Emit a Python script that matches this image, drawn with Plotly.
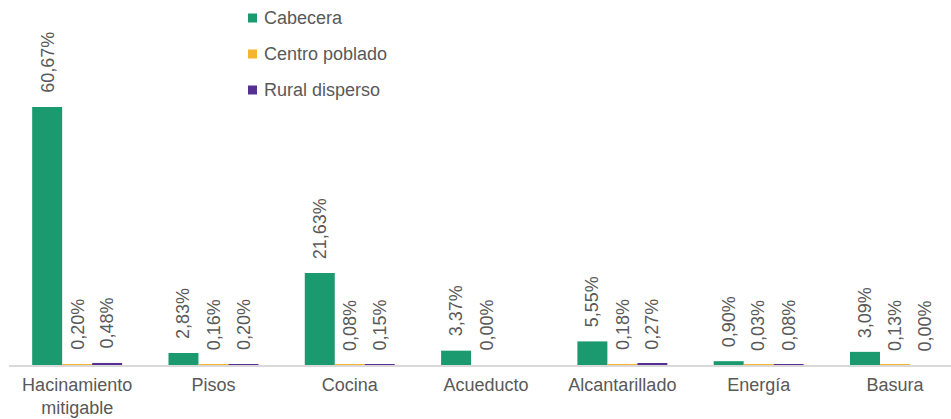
import plotly.graph_objects as go

categories = ["Hacinamiento<br>mitigable", "Pisos", "Cocina", "Acueducto",
              "Alcantarillado", "Energía", "Basura"]
series_names = ["Cabecera", "Centro poblado", "Rural disperso"]
cabecera = [60.67, 2.83, 21.63, 3.37, 5.55, 0.90, 3.09]
centro_poblado = [0.20, 0.16, 0.08, 0.00, 0.18, 0.03, 0.13]
rural_disperso = [0.48, 0.20, 0.15, None, 0.27, 0.08, 0.00]
colors = ["#1b9a70", "#f6b530", "#553090"]

series = [cabecera, centro_poblado, rural_disperso]
text_color = "#595959"
FONT = "Liberation Sans, Arial, sans-serif"
FS = 18

W, H = 951, 419
ML, MR, MT, MB = 9, 0, 0, 54
PW, PH = W - ML - MR, H - MT - MB

fig = go.Figure()
xs = list(range(len(categories)))
for k, (name, vals, col) in enumerate(zip(series_names, series, colors)):
    fig.add_trace(go.Bar(
        x=xs, y=vals, name=name, marker=dict(color=col, line=dict(width=0)),
        hoverinfo="skip", showlegend=False,
    ))

bargap = 0.34
bw = (1 - bargap) / 3
annotations = []
for k, vals in enumerate(series):
    for i, v in enumerate(vals):
        if v is None:
            continue
        annotations.append(dict(
            x=i + (k - 1) * bw, y=v, xref="x", yref="y",
            text=f"{v:.2f}".replace(".", ",") + "%",
            textangle=-90, showarrow=False, xanchor="center", yanchor="bottom",
            yshift=12, font=dict(family=FONT, size=FS, color=text_color),
        ))

# manual legend (pixel positions converted to paper coords)
shapes = []
leg_sq_x0, leg_sq_size, leg_text_x = 248, 9, 262
leg_rows = [18, 54, 90]
for name, col, yc in zip(series_names, colors, leg_rows):
    shapes.append(dict(
        type="rect", xref="paper", yref="paper",
        x0=(leg_sq_x0 - ML) / PW, x1=(leg_sq_x0 + leg_sq_size - ML) / PW,
        y0=(H - MB - (yc + leg_sq_size / 2)) / PH, y1=(H - MB - (yc - leg_sq_size / 2)) / PH,
        fillcolor=col, line=dict(width=0),
    ))
    annotations.append(dict(
        x=(leg_text_x - ML) / PW, y=(H - MB - yc) / PH, xref="paper", yref="paper",
        text=name, showarrow=False, xanchor="left", yanchor="middle",
        font=dict(family=FONT, size=FS, color=text_color),
    ))

fig.update_layout(
    width=W, height=H,
    margin=dict(l=ML, r=MR, t=MT, b=MB, autoexpand=False),
    paper_bgcolor="white", plot_bgcolor="white",
    barmode="group", bargap=bargap, bargroupgap=0,
    font=dict(family=FONT, size=FS, color=text_color),
    showlegend=False,
    annotations=annotations,
    shapes=shapes,
    xaxis=dict(range=[-0.5, 6.411], tickmode="array", tickvals=xs, ticktext=categories,
               showline=True, linecolor="#d9d9d9", linewidth=2, showgrid=False,
               zeroline=False, ticks="", ticklabelstandoff=2, automargin=False,
               tickfont=dict(family=FONT, size=FS, color=text_color)),
    yaxis=dict(range=[0, 85.83], visible=False, showgrid=False, zeroline=False),
)
fig.write_html("out.html", config={"displayModeBar": False},
               post_script="document.body.style.margin='0';")
